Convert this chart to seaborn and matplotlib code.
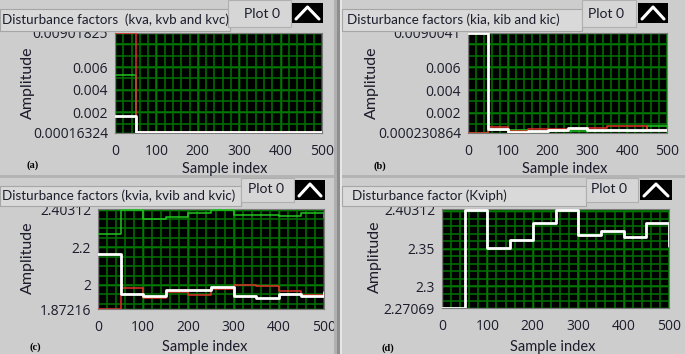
import matplotlib
matplotlib.use("Agg")
import matplotlib.pyplot as plt
from matplotlib.patches import Rectangle
from matplotlib.lines import Line2D
from matplotlib.ticker import MultipleLocator, FixedLocator
import pandas as pd
import seaborn as sns

W, H = 685, 354

# x positions of the step changes (last point = final sample)
sample_index = [0, 50, 100, 150, 200, 250, 300, 350, 400, 450, 500]

# (a) kva / kvb / kvc
kva = [0.00901825, 0.00022, 0.00022, 0.00029, 0.00022, 0.00022, 0.00022, 0.00029, 0.00022, 0.00022, 0.00022]
kvb = [0.00533, 0.00022, 0.00022, 0.00022, 0.00022, 0.00029, 0.00022, 0.00022, 0.00022, 0.00022, 0.00022]
kvc = [0.00164, 0.00021, 0.00021, 0.00021, 0.00021, 0.00021, 0.00021, 0.00021, 0.00021, 0.00021, 0.00021]

# (b) kia / kib / kic
kia = [0.00025, 0.00072, 0.00045, 0.00062, 0.00062, 0.00055, 0.00067, 0.00082, 0.00082, 0.00050, 0.00050]
kib = [0.00024, 0.00050, 0.00047, 0.00029, 0.00040, 0.00045, 0.00038, 0.00047, 0.00045, 0.00082, 0.00082]
kic = [0.0090041, 0.00058, 0.00036, 0.00040, 0.00050, 0.00067, 0.00050, 0.00053, 0.00048, 0.00053, 0.00053]

# (c) kvia / kvib / kvic
kvia = [1.874, 1.986, 1.933, 1.965, 1.944, 1.978, 2.001, 1.994, 1.969, 1.945, 1.945]
kvib = [2.2726, 2.400, 2.351, 2.358, 2.383, 2.400, 2.369, 2.373, 2.367, 2.383, 2.353]
kvic = [2.165, 1.954, 1.940, 1.972, 1.972, 1.990, 1.942, 1.929, 1.954, 1.942, 1.960]

# (d) Kviph
kviph = [2.2707, 2.402, 2.3513, 2.3617, 2.385, 2.402, 2.368, 2.374, 2.366, 2.385, 2.353]

# axis ranges and tick labels
ylim_a = (0.00016324, 0.00901825)
yticks_a = [0.00016324, 0.002, 0.004, 0.006, 0.008, 0.00901825]
ylabels_a = ["0.00016324", "0.002", "0.004", "0.006", "", "0.00901825"]
ylim_b = (0.000230864, 0.0090041)
yticks_b = [0.000230864, 0.002, 0.004, 0.006, 0.008, 0.0090041]
ylabels_b = ["0.000230864", "0.002", "0.004", "0.006", "", "0.0090041"]
ylim_c = (1.87216, 2.40312)
yticks_c = [1.87216, 2.0, 2.2, 2.4, 2.40312]
ylabels_c = ["1.87216", "2", "2.2", "", "2.40312"]
ylim_d = (2.27069, 2.40312)
yticks_d = [2.27069, 2.3, 2.35, 2.4, 2.40312]
ylabels_d = ["2.27069", "2.3", "2.35", "", "2.40312"]

titles = [
    "Disturbance factors  (kva, kvb and kvc)",
    "Disturbance factors (kia, kib and kic)",
    "Disturbance factors (kvia, kvib and kvic)",
    "Disturbance factor (Kviph)",
]

RED, GREEN, WHITE = "#e0302a", "#22c422", "#ffffff"

sns.set_theme(style="dark")
plt.rcParams["font.family"] = ["Lato", "DejaVu Sans"]

fig = plt.figure(figsize=(W / 100, H / 100), dpi=100)
fig.patch.set_facecolor("#cdcdcd")


def box(x0, y0, x1, y1, fc, ec="none", lw=0, z=1):
    fig.add_artist(Rectangle((x0 / W, 1 - y1 / H), (x1 - x0) / W, (y1 - y0) / H,
                             transform=fig.transFigure, facecolor=fc,
                             edgecolor=ec, lw=lw, zorder=z))


def ftext(x, y, s, **kw):
    kw.setdefault("color", "#1c1c2c")
    fig.text(x / W, 1 - y / H, s, zorder=3, **kw)


def make_frame(series):
    rows = []
    for name, vals in series:
        for x, v in zip(sample_index, vals):
            rows.append({"sample": x, "value": v, "series": name})
    return pd.DataFrame(rows)


panels = [
    dict(rect=(115, 33, 322, 133), ylim=ylim_a, yt=yticks_a, yl=ylabels_a, ymin=0.001,
         series=[("kvb", kvb, GREEN), ("kva", kva, RED), ("kvc", kvc, WHITE)]),
    dict(rect=(468, 33, 667, 133), ylim=ylim_b, yt=yticks_b, yl=ylabels_b, ymin=0.001,
         series=[("kib", kib, GREEN), ("kia", kia, RED), ("kic", kic, WHITE)]),
    dict(rect=(98, 209, 324, 309), ylim=ylim_c, yt=yticks_c, yl=ylabels_c, ymin=0.05,
         series=[("kvib", kvib, GREEN), ("kvia", kvia, RED), ("kvic", kvic, WHITE)]),
    dict(rect=(442, 209, 669, 308), ylim=ylim_d, yt=yticks_d, yl=ylabels_d, ymin=0.01,
         series=[("kviph", kviph, WHITE)]),
]

for p in panels:
    x0, y0, x1, y1 = p["rect"]
    ax = fig.add_axes([x0 / W, 1 - y1 / H, (x1 - x0) / W, (y1 - y0) / H])
    ax.set_facecolor("black")
    df = make_frame([(n, v) for n, v, c in p["series"]])
    order = [n for n, v, c in p["series"]]
    sns.lineplot(
        data=df, x="sample", y="value", hue="series", hue_order=order,
        palette={n: c for n, v, c in p["series"]},
        size="series", sizes={n: (2.0 if c == WHITE else 1.1) for n, v, c in p["series"]},
        drawstyle="steps-post", errorbar=None, legend=False, ax=ax, zorder=3,
    )
    ax.set_xlim(0, 500)
    ax.set_ylim(*p["ylim"])
    ax.xaxis.set_major_locator(MultipleLocator(100))
    ax.yaxis.set_major_locator(FixedLocator(p["yt"]))
    ax.set_yticklabels(p["yl"])

    # LabVIEW style grid: dark minor lines, brighter major lines
    for v in MultipleLocator(20).tick_values(0, 500):
        ax.axvline(v, color="#006c00", lw=1.2, zorder=1)
    for v in MultipleLocator(p["ymin"]).tick_values(*p["ylim"]):
        ax.axhline(v, color="#006c00", lw=1.2, zorder=1)
    ax.grid(True, which="major", color="#00c000", lw=1.0, zorder=1.5)

    ax.tick_params(which="major", direction="out", length=4, width=1,
                   color="#303030", labelsize=10, labelcolor="#1c1c2c")
    ax.tick_params(axis="x", pad=4)
    ax.tick_params(axis="y", pad=1)
    for lab in ax.get_xticklabels() + ax.get_yticklabels():
        lab.set_family(["Open Sans", "DejaVu Sans"])
    for s in ax.spines.values():
        s.set_color("#7a7a7a")
        s.set_linewidth(0.8)
    ax.set_xlabel("")
    ax.set_ylabel("")

# separators between panels
box(334, 0, 337, H, "#b0b0b0")
box(337, 0, 340, H, "#8e8e8e")
box(340, 0, 342, H, "#e6e6e6")
box(0, 175, 334, 178, "#b4b4b4")
box(342, 175, W, 178, "#b4b4b4")

# title strips, "Plot 0" boxes and icons
strips = [(0, 9, 230, 31), (342, 9, 582, 31), (0, 186, 241, 206), (342, 186, 586, 206)]
plotbox = [(228, 0, 291, 27), (582, 0, 636, 27), (241, 178, 294, 202), (586, 178, 638, 202)]
icons = [(292, 3, 323, 23), (638, 3, 668, 23), (295, 180, 325, 200), (640, 180, 672, 200)]
for (sx0, sy0, sx1, sy1), (bx0, by0, bx1, by1), (ix0, iy0, ix1, iy1) in zip(strips, plotbox, icons):
    box(sx0, sy0, sx1, sy1, "#d9d9d9", ec="#a6a6a6", lw=0.8)
    box(bx0, by0, bx1, by1, "#d6d6d6", ec="#b0b0b0", lw=0.8)
    box(ix0, iy0, ix1, iy1, "black")
    cx = (ix0 + ix1) / 2
    fig.add_artist(Line2D([(ix0 + 4) / W, cx / W, (ix1 - 4) / W],
                          [1 - (iy1 - 4) / H, 1 - (iy0 + 4) / H, 1 - (iy1 - 4) / H],
                          transform=fig.transFigure, color="white", lw=2.2, zorder=2))

plot0_pos = [(262, 14), (606, 14), (266, 189), (609, 189)]
for (px, py) in plot0_pos:
    ftext(px, py, "Plot 0", fontsize=10, ha="center", va="center")

title_pos = [(2, 20), (347, 20), (2, 196), (352, 196)]
for (tx, ty), t in zip(title_pos, titles):
    ftext(tx, ty, t, fontsize=9.6, ha="left", va="center")

amp_pos = [(28, 83), (372, 83), (28, 258), (375, 257)]
for (ax_, ay) in amp_pos:
    ftext(ax_, ay, "Amplitude", fontsize=11.5, rotation=90, ha="center", va="center")

xl_pos = [(225, 169), (565, 169), (205, 347), (553, 347)]
for (lx, ly) in xl_pos:
    ftext(lx, ly, "Sample index", fontsize=10.5, ha="center", va="center")

tag_pos = [(33, 165), (380, 166), (35, 347), (388, 348)]
for (gx, gy), tag in zip(tag_pos, ["(a)", "(b)", "(c)", "(d)"]):
    ftext(gx, gy, tag, fontsize=7.5, fontweight="bold", ha="center", va="center",
          family=["Liberation Serif", "DejaVu Serif"], color="black")

fig.savefig("out.png", dpi=100, facecolor=fig.get_facecolor())
